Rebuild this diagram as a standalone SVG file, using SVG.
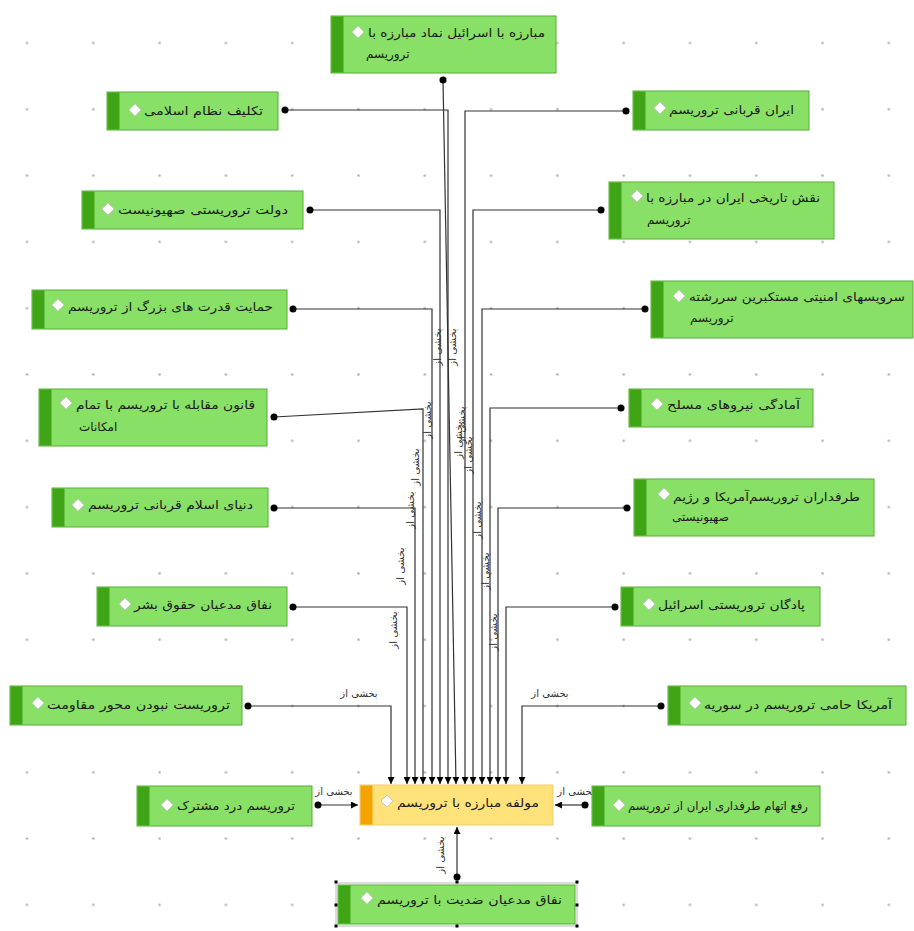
<svg xmlns="http://www.w3.org/2000/svg" xmlns:xlink="http://www.w3.org/1999/xlink" width="914" height="931" viewBox="0 0 914 931">
<style>
.box{fill:#88e066;stroke:#56ad36;stroke-width:1}
.stripe{fill:#3fa517}
.ybox{fill:#ffe27a;stroke:#efcd68;stroke-width:1}
.ystripe{fill:#f5a300}
.t{font-family:"DejaVu Sans",sans-serif;font-size:12px;fill:#1a1a1a}
.lbl{font-family:"DejaVu Sans",sans-serif;font-size:10px;fill:#333}
.c{fill:none;stroke:#333;stroke-width:1.2}
.dot{fill:#000}
.h{fill:#000}
</style>
<defs>
<pattern id="grid" x="-6.15" y="9.85" width="66.3" height="66.3" patternUnits="userSpaceOnUse">
<circle cx="33.15" cy="33.15" r="1.3" fill="#b4b4b4"/>
</pattern>
<marker id="arr" viewBox="0 0 10 10" refX="10" refY="5" markerWidth="7" markerHeight="7" markerUnits="userSpaceOnUse" orient="auto">
<path d="M0,0 L10,5 L0,10 z" fill="#000"/>
</marker>
<path id="dia" d="M0,-6 L6,0 L0,6 L-6,0 Z" fill="#fff" stroke="#c9c9c9" stroke-width="1"/>
</defs>
<rect width="914" height="931" fill="#fff"/>
<rect width="914" height="931" fill="url(#grid)"/>

<g id="connectors">
<polyline class="c" points="443,80 456,784" marker-end="url(#arr)"/>
<polyline class="c" points="285,110 448,110 448,784" marker-end="url(#arr)"/>
<polyline class="c" points="310,210 440,210 440,784" marker-end="url(#arr)"/>
<polyline class="c" points="293,309 432,309 432,784" marker-end="url(#arr)"/>
<polyline class="c" points="274,417 423,409 423,784" marker-end="url(#arr)"/>
<polyline class="c" points="274,508 415,508 415,784" marker-end="url(#arr)"/>
<polyline class="c" points="293,607 407,607 407,784" marker-end="url(#arr)"/>
<polyline class="c" points="248,706 391,706 391,784" marker-end="url(#arr)"/>
<polyline class="c" points="626,111 465,111 465,784" marker-end="url(#arr)"/>
<polyline class="c" points="601,210 473,210 473,784" marker-end="url(#arr)"/>
<polyline class="c" points="645,309 482,309 482,784" marker-end="url(#arr)"/>
<polyline class="c" points="621,408 490,408 490,784" marker-end="url(#arr)"/>
<polyline class="c" points="627,508 498,508 498,784" marker-end="url(#arr)"/>
<polyline class="c" points="615,607 506,607 506,784" marker-end="url(#arr)"/>
<polyline class="c" points="661,706 522,706 522,784" marker-end="url(#arr)"/>
<polyline class="c" points="318,805 358,805" marker-end="url(#arr)"/>
<polyline class="c" points="585,805 555,805" marker-end="url(#arr)"/>
<polyline class="c" points="457,877 457,827" marker-end="url(#arr)"/>
<circle class="dot" cx="443" cy="80" r="3.5"/>
<circle class="dot" cx="285" cy="110" r="3.5"/>
<circle class="dot" cx="310" cy="210" r="3.5"/>
<circle class="dot" cx="293" cy="309" r="3.5"/>
<circle class="dot" cx="274" cy="417" r="3.5"/>
<circle class="dot" cx="274" cy="508" r="3.5"/>
<circle class="dot" cx="293" cy="607" r="3.5"/>
<circle class="dot" cx="248" cy="706" r="3.5"/>
<circle class="dot" cx="626" cy="111" r="3.5"/>
<circle class="dot" cx="601" cy="210" r="3.5"/>
<circle class="dot" cx="645" cy="309" r="3.5"/>
<circle class="dot" cx="621" cy="408" r="3.5"/>
<circle class="dot" cx="627" cy="508" r="3.5"/>
<circle class="dot" cx="615" cy="607" r="3.5"/>
<circle class="dot" cx="661" cy="706" r="3.5"/>
<circle class="dot" cx="318" cy="805" r="3.5"/>
<circle class="dot" cx="585" cy="805" r="3.5"/>
<circle class="dot" cx="457" cy="877" r="3.5"/>
<g class="lbl" text-anchor="middle">
<text transform="translate(440.5,347) rotate(-90)">بخشی از</text>
<text transform="translate(455.5,347) rotate(-90)">بخشی از</text>
<text transform="translate(430.5,420) rotate(-90)">بخشی از</text>
<text transform="translate(464.5,425) rotate(-90)">بخشی از</text>
<text transform="translate(461.5,440) rotate(-90)">بخشی از</text>
<text transform="translate(471.5,455) rotate(-90)">بخشی از</text>
<text transform="translate(418.5,467) rotate(-90)">بخشی از</text>
<text transform="translate(413.5,510) rotate(-90)">بخشی از</text>
<text transform="translate(403.5,566) rotate(-90)">بخشی از</text>
<text transform="translate(396.5,630) rotate(-90)">بخشی از</text>
<text transform="translate(480.5,520) rotate(-90)">بخشی از</text>
<text transform="translate(488.5,571) rotate(-90)">بخشی از</text>
<text transform="translate(496.5,632) rotate(-90)">بخشی از</text>
<text x="359" y="697">بخشی از</text>
<text x="550" y="697">بخشی از</text>
<text x="334" y="795">بخشی از</text>
<text x="576" y="795">بخشی از</text>
<text transform="translate(443.5,855) rotate(-90)">بخشی از</text>
</g>
</g>

<g id="n1"><rect class="box" x="331" y="16" width="225" height="57"/><rect class="stripe" x="331.5" y="16.5" width="12" height="56"/><use xlink:href="#dia" x="358" y="32"/><text class="t" x="545" y="37" text-anchor="end" textLength="177" lengthAdjust="spacingAndGlyphs">مبارزه با اسرائیل نماد مبارزه با</text><text class="t" x="366" y="58">تروریسم</text></g>
<g id="n2"><rect class="box" x="107" y="92" width="171" height="38"/><rect class="stripe" x="107.5" y="92.5" width="12" height="37"/><use xlink:href="#dia" x="135" y="110"/><text class="t" x="263" y="115" text-anchor="end" textLength="119" lengthAdjust="spacingAndGlyphs">تکلیف نظام اسلامی</text></g>
<g id="n3"><rect class="box" x="633" y="91" width="176" height="39"/><rect class="stripe" x="633.5" y="91.5" width="12" height="38"/><use xlink:href="#dia" x="660" y="108"/><text class="t" x="794" y="114" text-anchor="end" textLength="125" lengthAdjust="spacingAndGlyphs">ایران قربانی تروریسم</text></g>
<g id="n4"><rect class="box" x="82" y="191" width="221" height="38"/><rect class="stripe" x="82.5" y="191.5" width="12" height="37"/><use xlink:href="#dia" x="108" y="209"/><text class="t" x="288" y="214" text-anchor="end" textLength="170" lengthAdjust="spacingAndGlyphs">دولت تروریستی صهیونیست</text></g>
<g id="n5"><rect class="box" x="609" y="182" width="225" height="57"/><rect class="stripe" x="609.5" y="182.5" width="12" height="56"/><use xlink:href="#dia" x="637" y="196"/><text class="t" x="820" y="202" text-anchor="end" textLength="174" lengthAdjust="spacingAndGlyphs">نقش تاریخی ایران در مبارزه با</text><text class="t" x="647" y="224">تروریسم</text></g>
<g id="n6"><rect class="box" x="32" y="290" width="255" height="39"/><rect class="stripe" x="32.5" y="290.5" width="12" height="38"/><use xlink:href="#dia" x="58" y="305"/><text class="t" x="273" y="311" text-anchor="end" textLength="205" lengthAdjust="spacingAndGlyphs">حمایت قدرت های بزرگ از تروریسم</text></g>
<g id="n7"><rect class="box" x="651" y="281" width="262" height="57"/><rect class="stripe" x="651.5" y="281.5" width="12" height="56"/><use xlink:href="#dia" x="679" y="296"/><text class="t" x="905" y="301" text-anchor="end" textLength="216" lengthAdjust="spacingAndGlyphs">سرویسهای امنیتی مستکبرین سررشته</text><text class="t" x="690" y="322">تروریسم</text></g>
<g id="n8"><rect class="box" x="39" y="389" width="228" height="57"/><rect class="stripe" x="39.5" y="389.5" width="12" height="56"/><use xlink:href="#dia" x="66" y="403"/><text class="t" x="255" y="409" text-anchor="end" textLength="179" lengthAdjust="spacingAndGlyphs">قانون مقابله با تروریسم با تمام</text><text class="t" x="79" y="431">امکانات</text></g>
<g id="n9"><rect class="box" x="629" y="389" width="184" height="38"/><rect class="stripe" x="629.5" y="389.5" width="12" height="37"/><use xlink:href="#dia" x="657" y="404"/><text class="t" x="800" y="409" text-anchor="end" textLength="133" lengthAdjust="spacingAndGlyphs">آمادگی نیروهای مسلح</text></g>
<g id="n10"><rect class="box" x="52" y="488" width="216" height="39"/><rect class="stripe" x="52.5" y="488.5" width="12" height="38"/><use xlink:href="#dia" x="78" y="505"/><text class="t" x="253" y="509" text-anchor="end" textLength="165" lengthAdjust="spacingAndGlyphs">دنیای اسلام قربانی تروریسم</text></g>
<g id="n11"><rect class="box" x="634" y="479" width="240" height="57"/><rect class="stripe" x="634.5" y="479.5" width="12" height="56"/><use xlink:href="#dia" x="664" y="494"/><text class="t" x="860" y="501" text-anchor="end" textLength="187" lengthAdjust="spacingAndGlyphs">طرفداران تروریسم‌آمریکا و رژیم</text><text class="t" x="672" y="521">صهیونیستی</text></g>
<g id="n12"><rect class="box" x="97" y="587" width="190" height="39"/><rect class="stripe" x="97.5" y="587.5" width="12" height="38"/><use xlink:href="#dia" x="125" y="604"/><text class="t" x="272" y="609" text-anchor="end" textLength="138" lengthAdjust="spacingAndGlyphs">نفاق مدعیان حقوق بشر</text></g>
<g id="n13"><rect class="box" x="621" y="587" width="199" height="39"/><rect class="stripe" x="621.5" y="587.5" width="12" height="38"/><use xlink:href="#dia" x="649" y="604"/><text class="t" x="805" y="609" text-anchor="end" textLength="147" lengthAdjust="spacingAndGlyphs">پادگان تروریستی اسرائیل</text></g>
<g id="n14"><rect class="box" x="10" y="686" width="232" height="39"/><rect class="stripe" x="10.5" y="686.5" width="12" height="38"/><use xlink:href="#dia" x="38" y="703"/><text class="t" x="230" y="709" text-anchor="end" textLength="183" lengthAdjust="spacingAndGlyphs">تروریست نبودن محور مقاومت</text></g>
<g id="n15"><rect class="box" x="668" y="686" width="238" height="39"/><rect class="stripe" x="668.5" y="686.5" width="12" height="38"/><use xlink:href="#dia" x="695" y="703"/><text class="t" x="892" y="709" text-anchor="end" textLength="188" lengthAdjust="spacingAndGlyphs">آمریکا حامی تروریسم در سوریه</text></g>
<g id="n16"><rect class="ybox" x="360" y="785" width="193" height="40"/><rect class="ystripe" x="360.5" y="785.5" width="12" height="39"/><use xlink:href="#dia" x="387" y="801"/><text class="t" x="539" y="807" text-anchor="end" textLength="142" lengthAdjust="spacingAndGlyphs">مولفه مبارزه با تروریسم</text></g>
<g id="n17"><rect class="box" x="137" y="786" width="175" height="40"/><rect class="stripe" x="137.5" y="786.5" width="12" height="39"/><use xlink:href="#dia" x="167" y="805"/><text class="t" x="295" y="810" text-anchor="end" textLength="118" lengthAdjust="spacingAndGlyphs">تروریسم درد مشترک</text></g>
<g id="n18"><rect class="box" x="592" y="786" width="228" height="40"/><rect class="stripe" x="592.5" y="786.5" width="12" height="39"/><use xlink:href="#dia" x="619" y="805"/><text class="t" x="808" y="810" text-anchor="end" textLength="180" lengthAdjust="spacingAndGlyphs">رفع اتهام طرفداری ایران از تروریسم</text></g>
<g id="n19"><rect class="box" x="338" y="885" width="237" height="39"/><rect class="stripe" x="338.5" y="885.5" width="12" height="38"/><use xlink:href="#dia" x="367" y="898"/><text class="t" x="562" y="904" text-anchor="end" textLength="185" lengthAdjust="spacingAndGlyphs">نفاق مدعیان ضدیت با تروریسم</text>
<rect x="336" y="883" width="241" height="43" fill="none" stroke="#8a8a8a" stroke-width="0.6"/>
<g class="h"><rect x="334.5" y="880.5" width="3" height="3"/><rect x="455.5" y="880.5" width="3" height="3"/><rect x="575.5" y="880.5" width="3" height="3"/><rect x="334.5" y="903.5" width="3" height="3"/><rect x="575.5" y="903.5" width="3" height="3"/><rect x="334.5" y="924.5" width="3" height="3"/><rect x="455.5" y="924.5" width="3" height="3"/><rect x="575.5" y="924.5" width="3" height="3"/></g></g>
</svg>
